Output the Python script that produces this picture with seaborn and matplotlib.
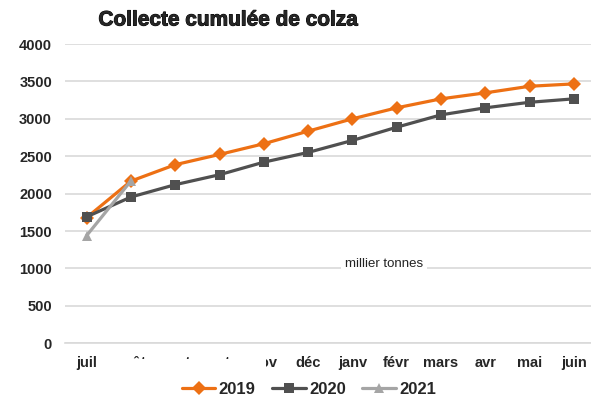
import matplotlib
matplotlib.use("Agg")
import matplotlib.pyplot as plt
import matplotlib.patheffects as pe
from matplotlib.patches import Rectangle
import pandas as pd
import seaborn as sns

# ── Données (milliers de tonnes) ────────────────────────────────────
mois = ["juil", "août", "sept", "oct", "nov", "déc",
        "janv", "févr", "mars", "avr", "mai", "juin"]
collecte_2019 = [1680, 2168, 2387, 2524, 2667, 2835,
                 3000, 3147, 3267, 3347, 3435, 3467]
collecte_2020 = [1690, 1955, 2120, 2253, 2421, 2551,
                 2711, 2888, 3053, 3147, 3221, 3267]
collecte_2021 = [1440, 2170]
annees = ["2019", "2020", "2021"]

COULEURS = {"2019": "#ED7014", "2020": "#505050", "2021": "#A5A5A5"}
MARQUEURS = {"2019": "D", "2020": "s", "2021": "^"}

frames = []
for annee, vals in zip(annees, [collecte_2019, collecte_2020, collecte_2021]):
    frames.append(pd.DataFrame({"mois": mois[:len(vals)],
                                "collecte": vals,
                                "annee": annee}))
df = pd.concat(frames, ignore_index=True)

sns.set_style("white")
plt.rcParams["font.family"] = ["Liberation Sans", "DejaVu Sans"]

W, H = 591, 400
fig = plt.figure(figsize=(W / 100, H / 100), dpi=100)
ax = fig.add_axes([64.5 / W, 1 - 343.3 / H, (596 - 64.5) / W, (343.3 - 44) / H])

sns.lineplot(data=df, x="mois", y="collecte", hue="annee", style="annee",
             palette=COULEURS, markers=MARQUEURS, dashes=False,
             linewidth=2.3, markersize=7.5, markeredgewidth=0, ax=ax,
             sort=False)

ax.set_xlim(-0.5, 11.5)
ax.set_ylim(0, 4000)
ax.set_yticks(range(0, 4001, 500))
ax.grid(axis="y", color="#D9D9D9", linewidth=1.2)
ax.set_axisbelow(True)
for s in ["top", "right", "left"]:
    ax.spines[s].set_visible(False)
ax.spines["bottom"].set_color("#D9D9D9")
ax.spines["bottom"].set_linewidth(1.2)
ax.tick_params(axis="both", length=0, labelsize=10.5)
ax.tick_params(axis="y", pad=9)
ax.tick_params(axis="x", pad=9)
for lab in ax.get_xticklabels() + ax.get_yticklabels():
    lab.set_fontweight("bold")
ax.set_xlabel("")
ax.set_ylabel("")

sns.move_legend(ax, "center", bbox_to_anchor=(309 / W, 1 - 389 / H),
                bbox_transform=fig.transFigure, ncol=3, title=None,
                frameon=False, handlelength=2.0, columnspacing=1.0,
                handletextpad=0.2, prop={"weight": "bold", "size": 12})

fig.text(229 / W, 1 - 20 / H, "Collecte cumulée de colza",
         ha="center", va="center", fontsize=15, fontweight="bold",
         path_effects=[pe.withStroke(linewidth=0.7, foreground="black")])

fig.text(384 / W, 1 - 264 / H, "millier tonnes", ha="center", va="center",
         fontsize=9.5, color="#222222",
         bbox=dict(facecolor="white", edgecolor="none", pad=3))

# cache blanc sur une partie des étiquettes de mois (comme l'original)
fig.add_artist(Rectangle((105 / W, 1 - 376 / H), (266 - 105) / W, (376 - 359) / H,
                         transform=fig.transFigure, facecolor="white",
                         edgecolor="none", zorder=10))

fig.savefig("out.png", dpi=100)
